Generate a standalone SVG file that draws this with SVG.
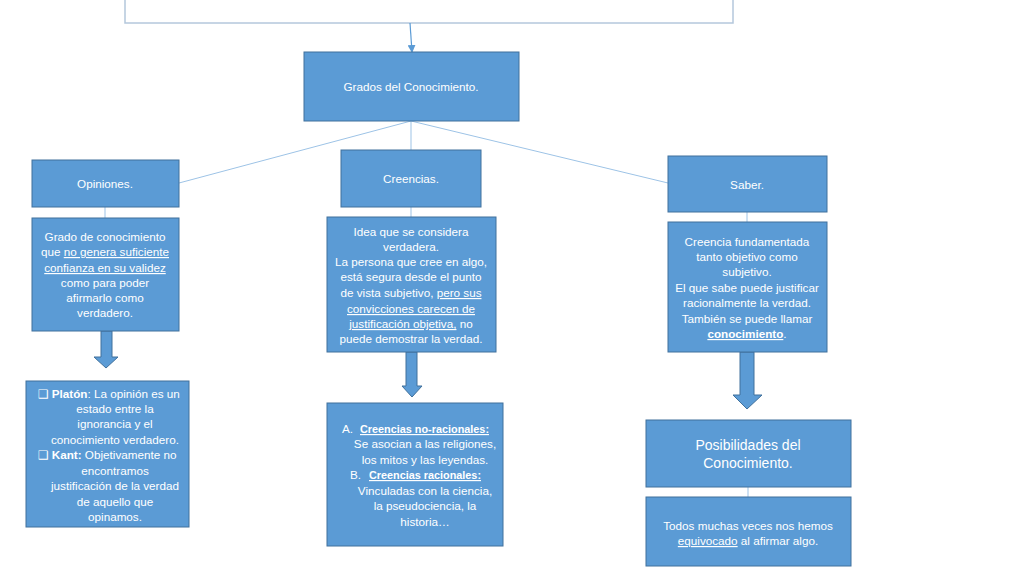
<svg xmlns="http://www.w3.org/2000/svg" width="1024" height="576" viewBox="0 0 1024 576">
<defs>
<style>
.box{fill:#5B9BD5;stroke:#41719C;stroke-width:1}
.t{font-family:"Liberation Sans",Arial,sans-serif;font-size:11.7px;fill:#FFFFFF;text-anchor:middle}
.big{font-size:14px}
.l{text-anchor:start}
.u{text-decoration:underline}
.b{font-weight:bold}
.cb{font-family:"DejaVu Sans",sans-serif}
.conn{stroke:#9DC3E6;stroke-width:1;fill:none}
.barrow{fill:#5B9BD5;stroke:#41719C;stroke-width:1}
</style>
<marker id="ah" markerWidth="8" markerHeight="8" refX="7" refY="4" orient="auto" markerUnits="userSpaceOnUse">
<path d="M0,0 L8,4 L0,8 z" fill="#5B9BD5"/>
</marker>
</defs>
<rect width="1024" height="576" fill="#FFFFFF"/>

<g id="top-box">
<rect x="125" y="-10" width="608" height="33" fill="#FFFFFF" stroke="#B4C7DC" stroke-width="1.5"/>
</g>

<g id="connectors">
<line x1="410" y1="23" x2="412" y2="52" stroke="#5B9BD5" stroke-width="1.2" marker-end="url(#ah)"/>
<line class="conn" x1="411" y1="121" x2="179" y2="183"/>
<line class="conn" x1="411" y1="121" x2="411" y2="150"/>
<line class="conn" x1="411" y1="121" x2="668" y2="183"/>
<line class="conn" x1="105" y1="207" x2="105" y2="218"/>
<line class="conn" x1="411" y1="207" x2="411" y2="217"/>
<line class="conn" x1="747" y1="212" x2="747" y2="222"/>
<line class="conn" x1="748" y1="487" x2="748" y2="497"/>
<path class="barrow" d="M101,331 L112,331 L112,357 L118,357 L106,368 L94,357 L101,357 Z"/>
<path class="barrow" d="M406,352 L417,352 L417,386 L422,386 L412,397 L402,386 L406,386 Z"/>
<path class="barrow" d="M740,352 L754,352 L754,395 L762,395 L747,409 L733,395 L740,395 Z"/>
</g>

<g id="grados">
<rect class="box" x="304" y="52" width="215" height="69"/>
<text class="t" x="411" y="91">Grados del Conocimiento.</text>
</g>

<g id="opiniones">
<rect class="box" x="32" y="160" width="147" height="47"/>
<text class="t" x="105" y="188">Opiniones.</text>
</g>

<g id="opiniones-desc">
<rect class="box" x="32" y="218" width="147" height="113"/>
<text class="t" x="105" y="241">Grado de conocimiento</text>
<text class="t" x="105" y="256">que <tspan class="u">no genera suficiente</tspan></text>
<text class="t" x="105" y="272"><tspan class="u">confianza en su validez</tspan></text>
<text class="t" x="105" y="287">como para poder</text>
<text class="t" x="105" y="302">afirmarlo como</text>
<text class="t" x="105" y="317">verdadero.</text>
</g>

<g id="platon-kant">
<rect class="box" x="26" y="381" width="163" height="146"/>
<text class="t l" x="38" y="398"><tspan class="cb">❑</tspan> <tspan class="b">Platón</tspan>: La opinión es un</text>
<text class="t" x="115" y="413">estado entre la</text>
<text class="t" x="115" y="428">ignorancia y el</text>
<text class="t" x="115" y="444">conocimiento verdadero.</text>
<text class="t l" x="38" y="459"><tspan class="cb">❑</tspan> <tspan class="b">Kant:</tspan> Objetivamente no</text>
<text class="t" x="115" y="475">encontramos</text>
<text class="t" x="115" y="490">justificación de la verdad</text>
<text class="t" x="115" y="506">de aquello que</text>
<text class="t" x="115" y="521">opinamos.</text>
</g>

<g id="creencias">
<rect class="box" x="341" y="150" width="140" height="57"/>
<text class="t" x="411" y="183">Creencias.</text>
</g>

<g id="creencias-desc">
<rect class="box" x="327" y="217" width="169" height="135"/>
<text class="t" x="411" y="236">Idea que se considera</text>
<text class="t" x="411" y="251">verdadera.</text>
<text class="t" x="411" y="266">La persona que cree en algo,</text>
<text class="t" x="411" y="281">está segura desde el punto</text>
<text class="t" x="411" y="297">de vista subjetivo, <tspan class="u">pero sus</tspan></text>
<text class="t" x="411" y="313"><tspan class="u">convicciones carecen de</tspan></text>
<text class="t" x="411" y="328"><tspan class="u">justificación objetiva,</tspan> no</text>
<text class="t" x="411" y="343">puede demostrar la verdad.</text>
</g>

<g id="creencias-tipos">
<rect class="box" x="327" y="403" width="176" height="143"/>
<text class="t l" x="342" y="433">A.<tspan x="360" class="u b" textLength="129" lengthAdjust="spacingAndGlyphs">Creencias no-racionales:</tspan></text>
<text class="t" x="425" y="448">Se asocian a las religiones,</text>
<text class="t" x="425" y="464">los mitos y las leyendas.</text>
<text class="t l" x="350" y="479">B.<tspan x="369" class="u b" textLength="112" lengthAdjust="spacingAndGlyphs">Creencias racionales:</tspan></text>
<text class="t" x="425" y="495">Vinculadas con la ciencia,</text>
<text class="t" x="425" y="510">la pseudociencia, la</text>
<text class="t" x="425" y="526">historia…</text>
</g>

<g id="saber">
<rect class="box" x="668" y="156" width="159" height="56"/>
<text class="t" x="747" y="189">Saber.</text>
</g>

<g id="saber-desc">
<rect class="box" x="668" y="222" width="159" height="130"/>
<text class="t" x="747" y="246">Creencia fundamentada</text>
<text class="t" x="747" y="261">tanto objetivo como</text>
<text class="t" x="747" y="276">subjetivo.</text>
<text class="t" x="747" y="292">El que sabe puede justificar</text>
<text class="t" x="747" y="307">racionalmente la verdad.</text>
<text class="t" x="747" y="323">También se puede llamar</text>
<text class="t" x="747" y="338"><tspan class="u b">conocimiento</tspan>.</text>
</g>

<g id="posibilidades">
<rect class="box" x="646" y="420" width="205" height="67"/>
<text class="t big" x="748" y="450">Posibilidades del</text>
<text class="t big" x="748" y="468">Conocimiento.</text>
</g>

<g id="equivocado">
<rect class="box" x="646" y="497" width="205" height="69"/>
<text class="t" x="748" y="530">Todos muchas veces nos hemos</text>
<text class="t" x="748" y="545"><tspan class="u">equivocado</tspan> al afirmar algo.</text>
</g>
</svg>
